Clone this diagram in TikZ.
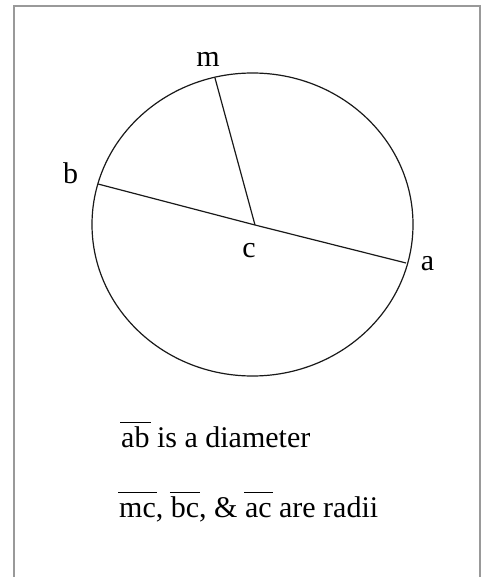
\documentclass[tikz,border=0pt]{standalone}
\usepackage{fontspec}
\setmainfont{Liberation Serif}
\usetikzlibrary{positioning,calc}
% segment name with a bar drawn a little above the letters
\newcommand{\seg}[1]{\begingroup\setbox0\hbox{#1}%
  \rlap{\hbox to\wd0{\hss\rule[0.8em]{\dimexpr\wd0+2pt\relax}{1.2pt}\hss}}%
  \box0\endgroup}
\begin{document}
\begin{tikzpicture}[x=1pt, y=-1pt,
      frame/.style={draw=black!40, line width=2pt},
      edge/.style={draw=black!90, line width=1.2pt},
      lbl/.style={anchor=base, inner sep=0pt, font=\fontsize{30}{36}\selectfont},
      txt/.style={anchor=base west, inner sep=0pt, font=\fontsize{30}{36}\selectfont}]
      \useasboundingbox (0,0) rectangle (482,577);
      % open frame (bottom edge cut off)
      \draw[frame] (14,580) -- (14,6) -- (480,6) -- (480,580);

      % circle and its points
      \draw[edge] (252.5,224.5) ellipse [x radius=160.5, y radius=151.5];
      \coordinate (c) at (255,225);
      \coordinate (m) at (215,78);
      \coordinate (b) at (98,184);
      \coordinate (a) at (406,263);

      % diameter and radius
      \draw[edge] (b) -- (c) -- (a);
      \draw[edge] (m) -- (c);

      % point labels
      \node[lbl] (lm) at (208,67) {m};
      \node[lbl] (lb) at (70.5,183) {b};
      \node[lbl] (lc) at (249,257) {c};
      \node[lbl] (la) at (427.5,270) {a};

      % captions
      \node[txt] (t1) at (121,447) {\seg{ab} is a diameter};
      \node[txt] (t2) at (119,517) {\seg{mc}, \seg{bc}, \& \seg{ac} are radii};
    \end{tikzpicture}
\end{document}
